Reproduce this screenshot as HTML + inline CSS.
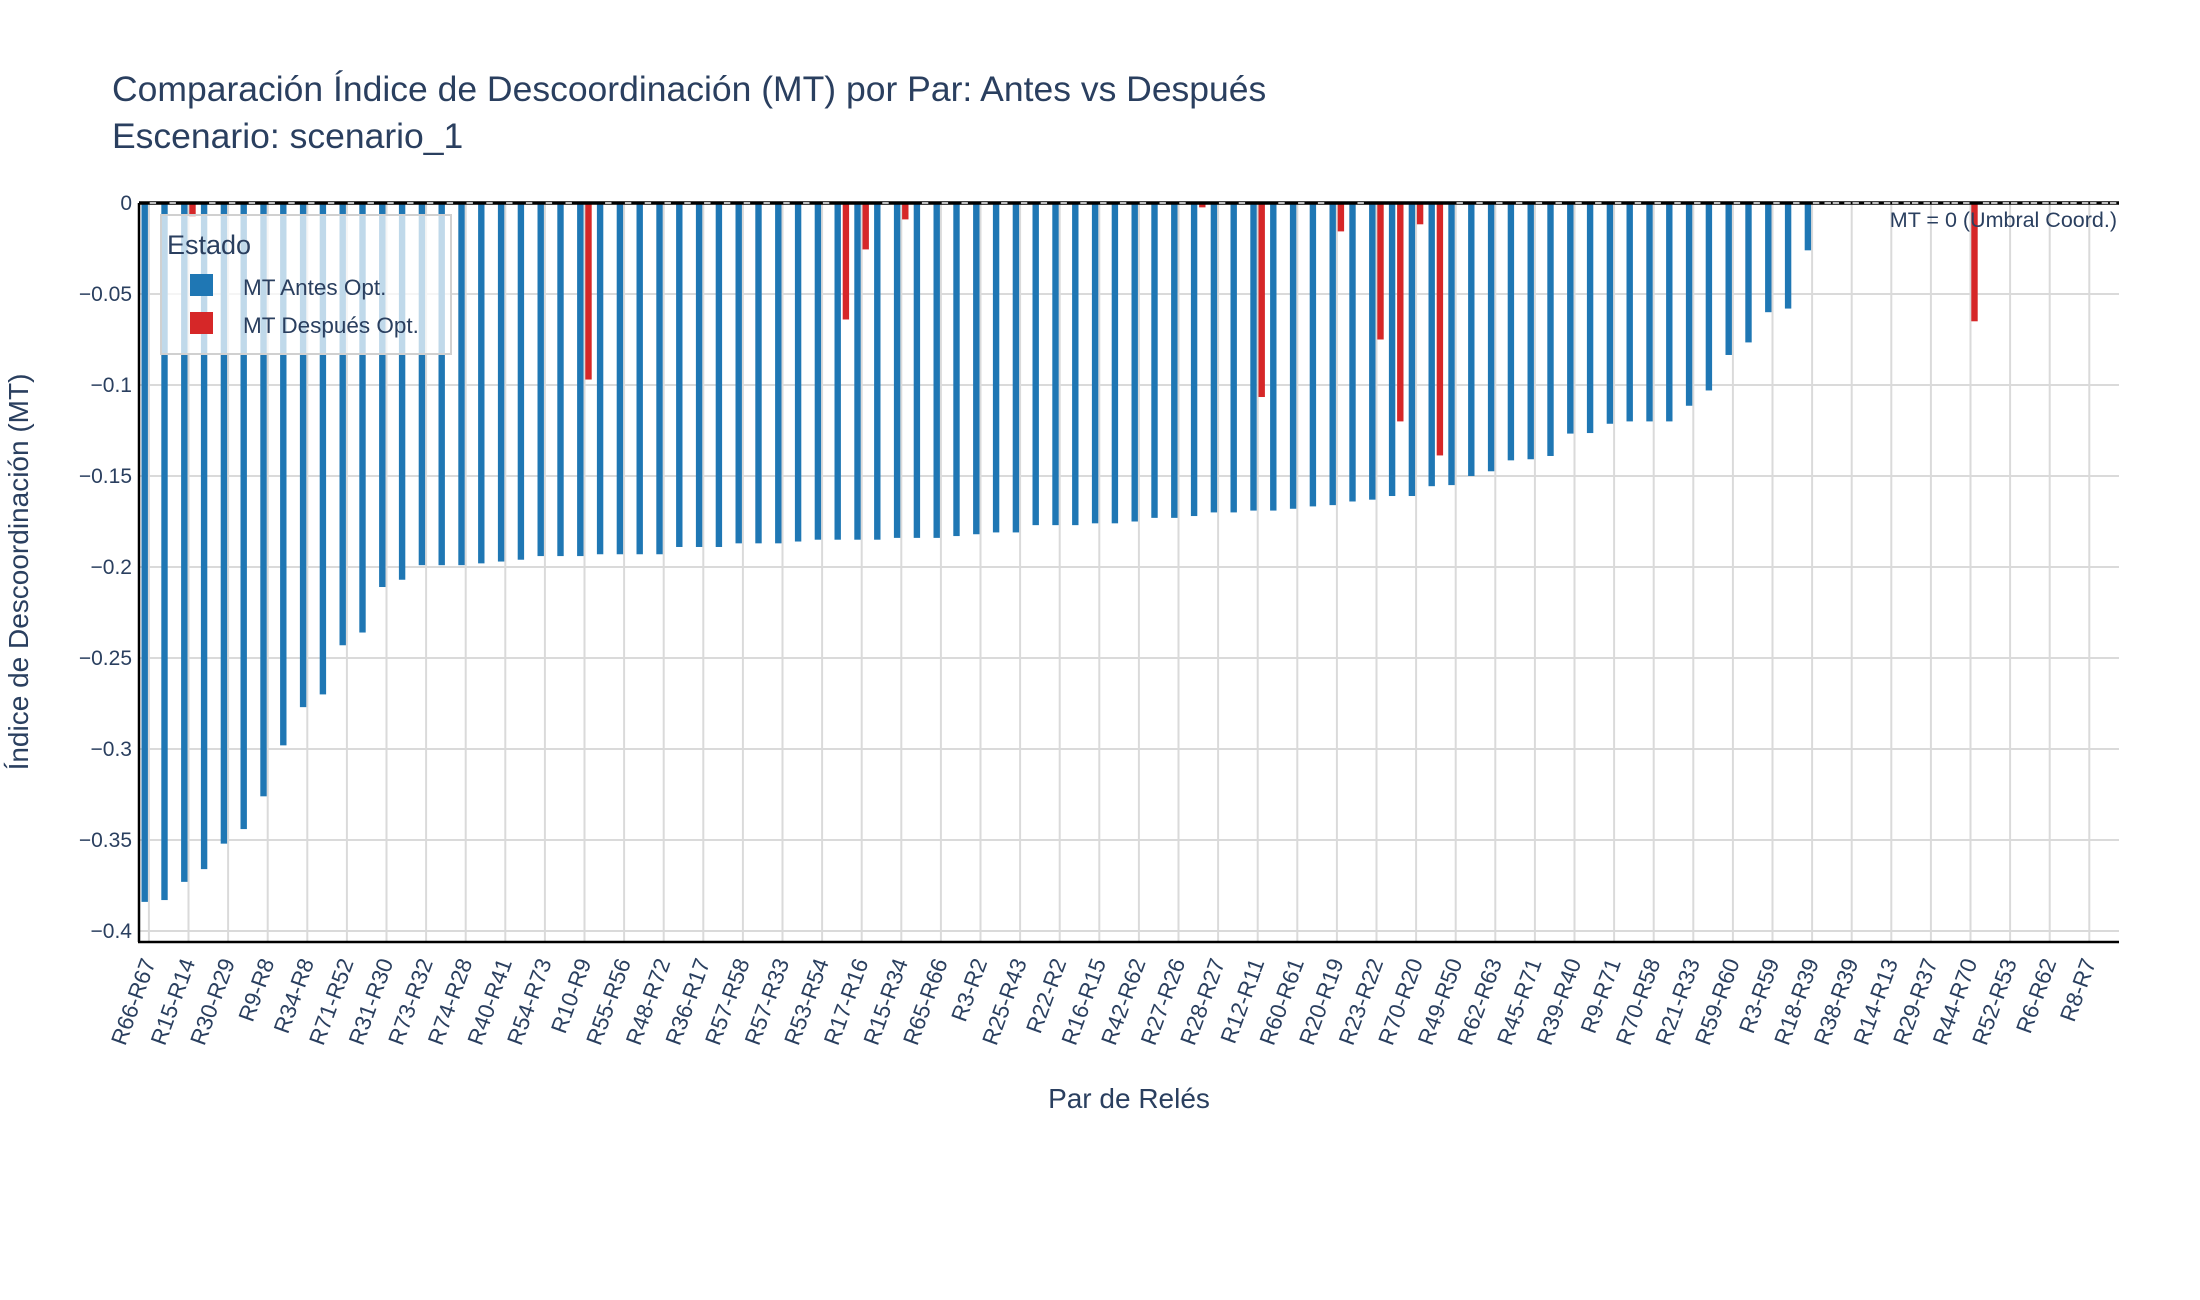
<!DOCTYPE html>
<html><head><meta charset="utf-8"><style>
html,body{margin:0;padding:0;background:#fff;}
svg{display:block;font-family:"Liberation Sans",Arial,sans-serif;}
</style></head><body>
<svg id="chart" width="2200" height="1300" viewBox="0 0 2200 1300" xmlns="http://www.w3.org/2000/svg">
<g id="grid"></g>
<g id="bars"></g>
<g id="axes"></g>
<text x="112" y="101" font-size="35.5" fill="#2a3f5f">Comparación Índice de Descoordinación (MT) por Par: Antes vs Después</text>
<text x="112" y="148" font-size="35.5" fill="#2a3f5f">Escenario: scenario_1</text>
<text transform="translate(28,572) rotate(-90)" text-anchor="middle" font-size="28" fill="#2a3f5f">Índice de Descoordinación (MT)</text>
<text x="1129" y="1108" text-anchor="middle" font-size="28" fill="#2a3f5f">Par de Relés</text>
<text x="2117" y="227" text-anchor="end" font-size="21.5" fill="#2a3f5f">MT = 0 (Umbral Coord.)</text>
<g>
<rect x="161" y="215" width="290" height="139" fill="rgba(255,255,255,0.72)" stroke="#d0d0d0" stroke-width="2"/>
<text x="167" y="254" font-size="27" fill="#2a3f5f">Estado</text>
<rect x="190" y="274" width="23" height="22" fill="#1f77b4"/>
<text x="243" y="295" font-size="22.5" fill="#2a3f5f">MT Antes Opt.</text>
<rect x="190" y="312" width="23" height="22" fill="#d62728"/>
<text x="243" y="333" font-size="22.5" fill="#2a3f5f">MT Después Opt.</text>
</g>
</svg>
<script>
const categories = ["R66-R67","R44-R45","R15-R14","R32-R31","R30-R29","R67-R68","R9-R8","R35-R34","R34-R8","R72-R71","R71-R52","R8-R9","R31-R30","R2-R1","R73-R32","R11-R10","R74-R28","R41-R40","R40-R41","R63-R64","R54-R73","R56-R55","R10-R9","R43-R42","R55-R56","R58-R57","R48-R72","R13-R12","R36-R17","R19-R18","R57-R58","R33-R32","R57-R33","R26-R25","R53-R54","R47-R48","R17-R16","R50-R49","R15-R34","R68-R69","R65-R66","R37-R36","R3-R2","R61-R60","R25-R43","R4-R3","R22-R2","R52-R51","R16-R15","R7-R6","R42-R62","R64-R65","R27-R26","R5-R4","R28-R27","R39-R38","R12-R11","R46-R47","R60-R61","R24-R23","R20-R19","R69-R70","R23-R22","R21-R20","R70-R20","R51-R52","R49-R50","R14-R15","R62-R63","R1-R2","R45-R71","R33-R21","R39-R40","R6-R5","R9-R71","R38-R37","R70-R58","R18-R17","R21-R33","R59-R58","R59-R60","R29-R28","R3-R59","R58-R59","R18-R39","R37-R38","R38-R39","R13-R14","R14-R13","R36-R37","R29-R37","R43-R44","R44-R70","R53-R52","R52-R53","R62-R61","R6-R62","R7-R8","R8-R7","R46-R45"];
const mtAntes = [-0.384,-0.383,-0.373,-0.366,-0.352,-0.344,-0.326,-0.298,-0.277,-0.270,-0.243,-0.236,-0.211,-0.207,-0.199,-0.199,-0.199,-0.198,-0.197,-0.196,-0.194,-0.194,-0.194,-0.193,-0.193,-0.193,-0.193,-0.189,-0.189,-0.189,-0.187,-0.187,-0.187,-0.186,-0.185,-0.185,-0.185,-0.185,-0.184,-0.184,-0.184,-0.183,-0.182,-0.181,-0.181,-0.177,-0.177,-0.177,-0.176,-0.176,-0.175,-0.173,-0.173,-0.172,-0.170,-0.170,-0.169,-0.169,-0.168,-0.1667,-0.166,-0.164,-0.163,-0.161,-0.161,-0.1556,-0.155,-0.150,-0.1474,-0.1414,-0.1408,-0.139,-0.1267,-0.1264,-0.1213,-0.120,-0.120,-0.120,-0.1114,-0.103,-0.0835,-0.0766,-0.060,-0.058,-0.026,0,0,0,0,0,0,0,0,0,0,0,0,0,0,0];
const mtDespues = [0,0,-0.0075,0,0,0,0,0,0,0,0,0,0,0,0,0,0,0,0,0,0,0,-0.097,0,0,0,0,0,0,0,0,0,0,0,0,-0.064,-0.0255,0,-0.009,0,0,0,0,0,0,0,0,0,0,0,0,0,0,-0.0024,0,0,-0.1066,0,0,0,-0.0156,0,-0.075,-0.120,-0.0117,-0.1387,0,0,0,0,0,0,0,0,0,0,0,0,0,0,0,0,0,0,0,0,0,0,0,0,0,0,-0.065,0,0,0,0,0,0,0];
const yTicks = [0,-0.05,-0.1,-0.15,-0.2,-0.25,-0.3,-0.35,-0.4];
const yTickLabels = ["0","−0.05","−0.1","−0.15","−0.2","−0.25","−0.3","−0.35","−0.4"];

const NS = "http://www.w3.org/2000/svg";
const X0 = 139, X1 = 2119, Y0 = 203, YB = 942, YS = 1820;
const catW = (X1 - X0) / categories.length;
function xCenter(i){ return X0 + (i + 0.5) * catW; }
function yPos(v){ return Y0 - v * YS; }
function mk(tag, attrs, parent){
  const e = document.createElementNS(NS, tag);
  for (const k in attrs) e.setAttribute(k, attrs[k]);
  parent.appendChild(e);
  return e;
}
const grid = document.getElementById('grid');
const bars = document.getElementById('bars');
const axes = document.getElementById('axes');

yTicks.forEach((t, i) => {
  const y = yPos(t);
  const gl = mk('line', {x1: X0, x2: X1, y1: y, y2: y, stroke: '#dadada', 'stroke-width': 2}, grid);
  
  
  const tl = mk('text', {x: 132, y: y + 7, 'text-anchor': 'end', 'font-size': 21, fill: '#2a3f5f'}, axes);
  tl.textContent = yTickLabels[i];
  
  
});
categories.forEach((c, i) => {
  if (i % 2 !== 0) return;
  const x = xCenter(i);
  const vl = mk('line', {x1: x, x2: x, y1: Y0, y2: YB, stroke: '#dadada', 'stroke-width': 2}, grid);
  
  
  const tl = mk('text', {transform: 'translate(' + (x + 7) + ',962) rotate(-70)', 'text-anchor': 'end', 'font-size': 22.5, fill: '#2a3f5f'}, axes);
  tl.textContent = c;
  
  
});
const BW = 6.4;
const th = mk('line', {x1: X0, x2: X1, y1: Y0, y2: Y0, stroke: '#000', 'stroke-width': 3.5}, axes);


categories.forEach((c, i) => {
  const x = xCenter(i);
  const a = mtAntes[i], d = mtDespues[i];
  if (a !== 0) {
    const r = mk('rect', {x: x - 7.4, y: Y0, width: BW, height: yPos(a) - Y0, fill: '#1f77b4'}, bars);
    
    
  } else {
    const r = mk('rect', {x: x - 7.4, y: Y0 - 1, width: BW, height: 2, fill: '#bdbdbd'}, axes);
    
    
  }
  if (d !== 0) {
    const r = mk('rect', {x: x + 0.8, y: Y0, width: BW, height: yPos(d) - Y0, fill: '#d62728'}, bars);
    
    
  } else {
    const r = mk('rect', {x: x + 0.8, y: Y0 - 1, width: BW, height: 2, fill: '#bdbdbd'}, axes);
    
    
  }
});
const xa = mk('line', {x1: X0 - 1, x2: X1, y1: YB, y2: YB, stroke: '#000', 'stroke-width': 2.5}, axes);


const ya = mk('line', {x1: X0, x2: X0, y1: Y0, y2: YB, stroke: '#000', 'stroke-width': 2.5}, axes);


</script>
</body></html>
